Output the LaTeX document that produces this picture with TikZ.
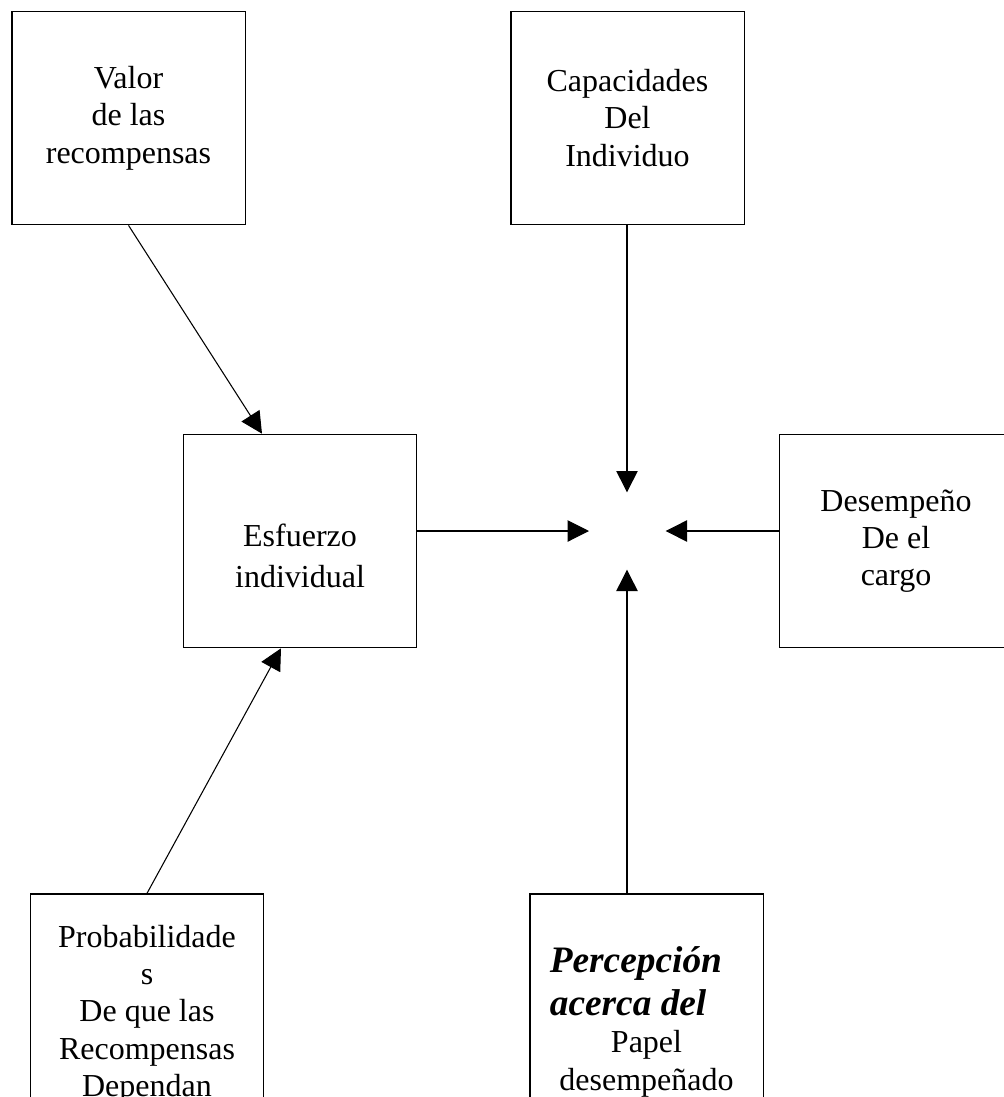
\documentclass[tikz,border=0pt]{standalone}
\usepackage{fontspec}
\setmainfont{Liberation Serif}
\usetikzlibrary{arrows.meta,calc}

\begin{document}
\begin{tikzpicture}[x=0.75pt,y=-0.75pt,
    caja/.style ={rectangle, draw, line width=1pt, inner sep=0pt,
      minimum width=175pt, minimum height=160pt, align=center,
      font=\fontsize{24}{28}\selectfont},
    flecha/.style ={line width=0.8pt, -{Triangle[length=16pt,width=16pt]}}]
   \useasboundingbox (0,0) rectangle (1004,1097);
   \node[caja] (val) at (128.5,118) {Valor\\de las\\recompensas};
   \node[caja] (cap) at (627.5,118) {Capacidades\\Del\\Individuo};
   \node[caja] (esf) at (300,541) {\rule{0pt}{39pt}Esfuerzo\\[3pt]individual};
   \node[caja] (des) at (896,541) {Desempeño\\De el\\cargo};
   \node[caja, minimum height=180pt] (prob) at (147,1014)
      {Probabilidade\\s\\De que las\\Recompensas\\Dependan};
   \node[caja, minimum height=192pt] (per) at (646.5,1022)
      {\makebox[145pt][l]{\fontsize{28}{32}\selectfont\bfseries\itshape Percepción}\\[4pt]
       \makebox[145pt][l]{\fontsize{28}{32}\selectfont\bfseries\itshape acerca del}\\
       Papel\\desempeñado};
   \coordinate (meta) at (627,531);
   \draw[flecha] (val.south) to ($(esf.north)+(-38,0)$);
   \draw[flecha] (prob.north) to ($(esf.south)+(-19,0)$);
   \draw[flecha, shorten >=28.5pt] (meta -| esf.east) to (meta);
   \draw[flecha, shorten >=29pt] (meta -| des.west) to (meta);
   \draw[flecha, shorten >=29pt] (meta |- cap.south) to (meta);
   \draw[flecha, shorten >=29pt] (meta |- per.north) to (meta);
 \end{tikzpicture}
\end{document}
